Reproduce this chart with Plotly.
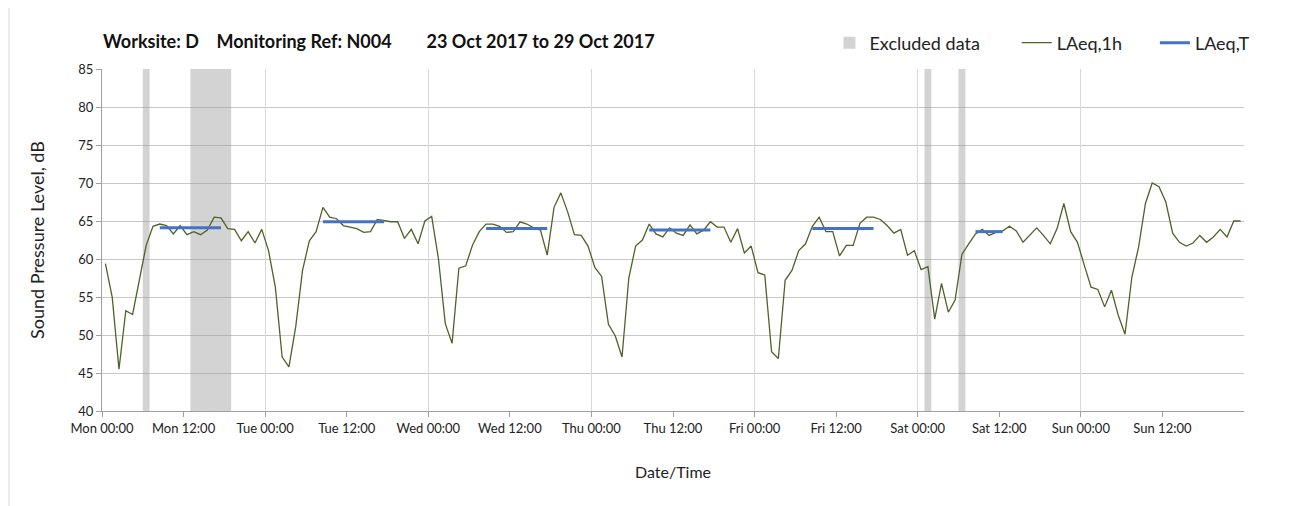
import pandas as pd
import plotly.graph_objects as go

# hourly LAeq,1h values, Mon 23 Oct 2017 00:00 -> Sun 29 Oct 2017 23:00
start = '2017-10-23 00:00'
laeq_1h = [
    # Mon
    59.4, 55.0, 45.5, 53.2, 52.7, 57.5, 61.8, 64.3, 64.6, 64.4, 63.3, 64.4,
    63.2, 63.6, 63.2, 63.8, 65.5, 65.4, 64.0, 63.9, 62.4, 63.6, 62.1, 63.9,
    # Tue
    61.1, 56.3, 47.1, 45.8, 51.1, 58.5, 62.4, 63.6, 66.8, 65.5, 65.3, 64.4,
    64.2, 64.0, 63.5, 63.6, 65.2, 65.0, 64.9, 64.9, 62.7, 63.9, 62.0, 65.0,
    # Wed
    65.6, 60.0, 51.5, 48.9, 58.8, 59.1, 61.8, 63.6, 64.6, 64.6, 64.3, 63.5,
    63.6, 64.9, 64.6, 64.1, 63.8, 60.5, 66.8, 68.7, 66.2, 63.2, 63.1, 61.7,
    # Thu
    58.9, 57.7, 51.4, 49.9, 47.1, 57.5, 61.7, 62.5, 64.6, 63.3, 62.9, 64.1,
    63.4, 63.1, 64.5, 63.3, 63.8, 64.9, 64.2, 64.2, 62.2, 64.0, 60.8, 61.7,
    # Fri
    58.2, 57.9, 47.8, 46.9, 57.2, 58.5, 61.1, 62.0, 64.3, 65.5, 63.6, 63.6,
    60.4, 61.8, 61.8, 64.7, 65.5, 65.5, 65.2, 64.4, 63.4, 63.9, 60.5, 61.1,
    # Sat
    58.6, 59.0, 52.1, 56.8, 53.0, 54.6, 60.6, 62.0, 63.3, 63.9, 63.1, 63.5,
    63.7, 64.3, 63.7, 62.2, 63.1, 64.1, 63.1, 62.0, 64.0, 67.3, 63.6, 62.2,
    # Sun
    59.2, 56.3, 56.0, 53.7, 55.9, 52.6, 50.1, 57.6, 61.6, 67.3, 70.0, 69.5,
    67.5, 63.4, 62.2, 61.7, 62.1, 63.1, 62.2, 62.9, 63.9, 62.9, 65.0, 65.0,
]

# LAeq,T over the working period of each day
period_start = ['2017-10-23 08:00', '2017-10-24 08:00', '2017-10-25 08:00',
                '2017-10-26 08:00', '2017-10-27 08:00', '2017-10-28 08:00']
period_end = ['2017-10-23 18:00', '2017-10-24 18:00', '2017-10-25 18:00',
              '2017-10-26 18:00', '2017-10-27 18:00', '2017-10-28 13:00']
laeq_t = [64.1, 64.9, 64.0, 63.8, 64.0, 63.6]

# excluded data periods
excl_start = ['2017-10-23 06:00', '2017-10-23 13:00', '2017-10-28 01:00', '2017-10-28 06:00']
excl_end = ['2017-10-23 07:00', '2017-10-23 19:00', '2017-10-28 02:00', '2017-10-28 07:00']

y_min, y_max = 40, 85

half = pd.Timedelta(minutes=30)
times = pd.date_range(start, periods=len(laeq_1h), freq='h') + half
t0 = pd.Timestamp(start)
t1 = t0 + pd.Timedelta(days=7)
tickvals = pd.date_range(t0, periods=14, freq='12h')
ticktext = [t.strftime('%a %H:%M') for t in tickvals]

es = pd.to_datetime(excl_start)
ee = pd.to_datetime(excl_end)
excl_mid = es + (ee - es) / 2
excl_width = [(b - a).total_seconds() * 1000 for a, b in zip(es, ee)]

tx, ty = [], []
for s, e, v in zip(pd.to_datetime(period_start), pd.to_datetime(period_end), laeq_t):
    tx += [s + half, e - half, None]
    ty += [v, v, None]

FONT = 'Lato'
# page body adds an 8px offset, so the figure is drawn 8px smaller
W, H = 1299, 498
L, R, T, B = 94, 63, 61, 95
PW, PH = W - L - R, H - T - B

fig = go.Figure()

fig.add_trace(go.Bar(
    x=excl_mid, y=[y_max - y_min] * len(excl_mid), base=y_min,
    width=excl_width, name='Excluded data', legend='legend',
    marker=dict(color='rgba(150,150,150,0.42)', line=dict(width=0))))

fig.add_trace(go.Scatter(
    x=times, y=laeq_1h, mode='lines', name='LAeq,1h', legend='legend2',
    line=dict(color='#4f6228', width=1.3)))

fig.add_trace(go.Scatter(
    x=tx, y=ty, mode='lines', name='LAeq,T', legend='legend3',
    line=dict(color='#4472c4', width=3)))

# invisible trace carrying the daily grid axis
fig.add_trace(go.Scatter(x=[t0, t1], y=[y_min, y_min], xaxis='x2', mode='lines',
                         line=dict(width=0), showlegend=False, hoverinfo='skip'))

leg = dict(orientation='h', xanchor='left', y=1.076, yanchor='middle',
           font=dict(size=18, color='#222222'), bgcolor='rgba(0,0,0,0)')

# faint frame edges at the sides of the chart
frame = [dict(type='line', xref='paper', yref='paper',
              x0=xe, x1=xe, y0=-B / PH, y1=(PH + T) / PH,
              line=dict(color='#d9d9d9', width=1))
         for xe in (-(L - 1) / PW, (W - L - 5) / PW)]

fig.update_layout(
    width=W, height=H,
    margin=dict(l=L, r=R, t=T, b=B),
    paper_bgcolor='white', plot_bgcolor='white',
    font=dict(family=FONT, color='#222222'),
    barmode='overlay',
    title=dict(text='<b>Worksite: D    Monitoring Ref: N004        23 Oct 2017 to 29 Oct 2017</b>',
               x=95 / W, xanchor='left', y=1 - 34 / H, yanchor='middle',
               font=dict(size=18, color='#111111')),
    legend=dict(leg, x=0.637),
    legend2=dict(leg, x=0.801),
    legend3=dict(leg, x=0.922),
    xaxis=dict(range=[t0, t1], tickvals=tickvals, ticktext=ticktext,
               showgrid=False, ticks='outside', ticklen=5, tickcolor='#a0a0a0',
               showline=True, linecolor='#a0a0a0', linewidth=1,
               tickfont=dict(size=13, color='#222222'),
               title=dict(text='Date/Time', font=dict(size=16), standoff=32)),
    xaxis2=dict(range=[t0, t1], overlaying='x', dtick=86400000, tick0=t0,
                showgrid=True, gridcolor='#d9d9d9', gridwidth=1,
                showticklabels=False, ticks=''),
    yaxis=dict(range=[y_min, y_max], dtick=5, showgrid=True, gridcolor='#c8c8c8',
               ticks='outside', ticklen=5, tickcolor='#a0a0a0',
               showline=True, linecolor='#a0a0a0', linewidth=1, zeroline=False,
               tickfont=dict(size=13, color='#222222'),
               title=dict(text='Sound Pressure Level, dB', font=dict(size=18), standoff=29)),
    shapes=frame,
    showlegend=True,
)

fig.write_html('out.html')
